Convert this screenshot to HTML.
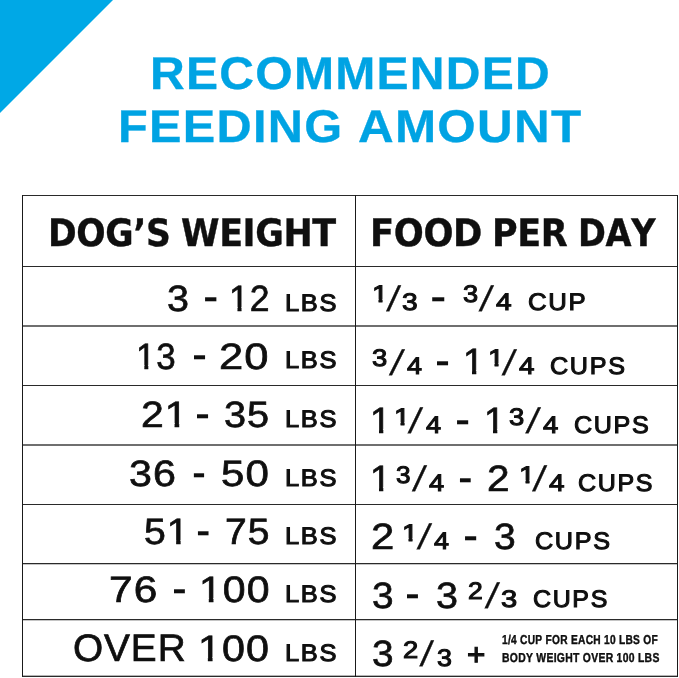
<!DOCTYPE html>
<html lang="en"><head><meta charset="utf-8"><title>Recommended Feeding Amount</title>
<style>
html,body{margin:0;padding:0;background:#fff;}
body{width:679px;height:678px;position:relative;overflow:hidden;font-family:"Liberation Sans", sans-serif;}
.t{position:absolute;white-space:nowrap;line-height:1;transform-origin:0 0;display:block;font-kerning:none;text-rendering:geometricPrecision;}
.o{font-style:normal;display:inline-block;clip-path:polygon(0 0,100% 0,100% .71em,.352em .71em,.352em 1.1em,.239em 1.1em,.239em .71em,0 .71em);}
.fd .o{clip-path:polygon(0 0,100% 0,100% .66em,.364em .66em,.364em 1.1em,.227em 1.1em,.227em .66em,0 .66em);}
.title{font-size:45.93px;font-weight:700;color:#00a3e3;letter-spacing:1.2px;-webkit-text-stroke:0.3px #00a3e3;}
.head{font-size:37.72px;font-weight:700;color:#0f0f0f;font-family:"DejaVu Sans", "Liberation Sans", sans-serif;letter-spacing:-0.4px;-webkit-text-stroke:0.4px #0f0f0f;}
.big{font-size:36.63px;font-weight:400;color:#0f0f0f;letter-spacing:0.9px;-webkit-text-stroke:0.7px #0f0f0f;}
.sc{font-size:24.06px;font-weight:400;color:#0f0f0f;letter-spacing:1.6px;-webkit-text-stroke:1.05px #0f0f0f;}
.fd{font-size:24.06px;font-weight:400;color:#0f0f0f;-webkit-text-stroke:1.05px #0f0f0f;}
.slash{font-size:36.50px;font-weight:400;color:#0f0f0f;-webkit-text-stroke:0.3px #0f0f0f;}
.dash{font-size:36.50px;font-weight:400;color:#0f0f0f;}
.plus{font-size:30.00px;font-weight:400;color:#0f0f0f;-webkit-text-stroke:1.1px #0f0f0f;}
.tiny{font-size:12.94px;font-weight:700;color:#0f0f0f;letter-spacing:0.35px;-webkit-text-stroke:0.4px #0f0f0f;}

.tri{position:absolute;left:0;top:0;width:0;height:0;border-top:113px solid #00a8e6;border-right:113px solid transparent;}
.txt{position:absolute;left:0;top:0;width:679px;height:678px;will-change:transform;}
.ln{position:absolute;background:#2a2a2a;}
.ln.v{width:1px;background:#1a1a1a;}
.ln.h{left:22px;width:656px;height:1px;}
.ln.h.b{height:2px;background:#6f6f6f;}
.ln.h.a{box-shadow:0 1px 0 #c4c4c4;}
.ln.h.e{box-shadow:0 -1px 0 #b4b4b4;}
</style></head><body>
<div class="tri"></div>
<div class="grid">
<div class="ln h s" style="top:195px"></div>
<div class="ln h s" style="top:266px"></div>
<div class="ln h b" style="top:325px"></div>
<div class="ln h s" style="top:385px"></div>
<div class="ln h b" style="top:444px"></div>
<div class="ln h s" style="top:504px"></div>
<div class="ln h a" style="top:563px"></div>
<div class="ln h a" style="top:619px"></div>
<div class="ln h e" style="top:676px"></div>
<div class="ln v" style="left:22px;top:195px;height:482px"></div>
<div class="ln v" style="left:355px;top:195px;height:482px"></div>
<div class="ln v" style="left:677px;top:195px;height:482px"></div>
</div>
<div class="txt">
<div class="g" role="heading" aria-level="1">
<span class="t title" style="left:150.15px;top:51.00px;transform:scaleX(1.0468);">RECOMMENDED</span>
<span class="t title" style="left:118.25px;top:104.00px;transform:scaleX(1.0601);">FEEDING</span>
<span class="t title" style="left:358.05px;top:104.00px;transform:scaleX(1.0753);">AMOUNT</span>
</div>
<div class="g" role="table">
<div class="g" role="row">
<div class="g" role="columnheader">
<span class="t head" style="left:47.50px;top:215.00px;transform:scaleX(0.9164);">DOG’S</span>
<span class="t head" style="left:180.60px;top:215.00px;transform:scaleX(0.9253);">WEIGHT</span>
</div>
<div class="g" role="columnheader">
<span class="t head" style="left:370.20px;top:215.00px;transform:scaleX(0.9361);">FOOD</span>
<span class="t head" style="left:492.00px;top:215.00px;transform:scaleX(0.9263);">PER</span>
<span class="t head" style="left:577.50px;top:215.00px;transform:scaleX(0.8902);">DAY</span>
</div>
</div>
<div class="g" role="row">
<div class="g" role="cell">
<span class="t big" style="left:166.60px;top:281.00px;transform:scaleX(1.0779);">3</span>
<span class="t dash" style="left:203.00px;top:271.00px;transform:scale(1.2698,1.4147);">-</span>
<span class="t big" style="left:229.40px;top:281.00px;transform:scaleX(0.9703);"><i class="o">1</i>2</span>
<span class="t sc" style="left:284.60px;top:292.00px;transform:scaleX(1.0592);">LBS</span>
</div>
<div class="g" role="cell">
<span class="t fd" style="left:371.80px;top:283.00px;transform:scaleX(1.2000);"><i class="o">1</i></span>
<span class="t slash" style="left:390.90px;top:282.00px;transform:skewX(-9.29deg) scale(1.0500,0.9713);">/</span>
<span class="t fd" style="left:402.20px;top:291.00px;transform:scaleX(1.1721);">3</span>
<span class="t dash" style="left:430.45px;top:271.00px;transform:scale(1.3545,1.4147);">-</span>
<span class="t fd" style="left:462.70px;top:283.00px;transform:scaleX(1.1321);">3</span>
<span class="t slash" style="left:484.40px;top:282.00px;transform:skewX(-10.03deg) scale(1.0500,0.9723);">/</span>
<span class="t fd" style="left:496.40px;top:291.00px;transform:scaleX(1.1661);">4</span>
<span class="t sc" style="left:527.85px;top:291.00px;transform:scaleX(1.0695);">CUP</span>
</div>
</div>
<div class="g" role="row">
<div class="g" role="cell">
<span class="t big" style="left:136.20px;top:339.00px;transform:scaleX(0.9530);"><i class="o">1</i>3</span>
<span class="t dash" style="left:191.60px;top:329.00px;transform:scale(1.2402,1.4147);">-</span>
<span class="t big" style="left:219.25px;top:339.00px;transform:scaleX(1.1885);">20</span>
<span class="t sc" style="left:284.60px;top:349.00px;transform:scaleX(1.0592);">LBS</span>
</div>
<div class="g" role="cell">
<span class="t fd" style="left:372.30px;top:347.00px;transform:scaleX(1.1407);">3</span>
<span class="t slash" style="left:395.15px;top:346.00px;transform:skewX(-11.60deg) scale(1.0500,0.9707);">/</span>
<span class="t fd" style="left:407.00px;top:355.00px;transform:scaleX(1.1209);">4</span>
<span class="t dash" style="left:434.70px;top:335.00px;transform:scale(1.2402,1.4147);">-</span>
<span class="t big" style="left:462.85px;top:344.00px;transform:scaleX(1.0300);"><i class="o">1</i></span>
<span class="t fd" style="left:487.90px;top:347.00px;transform:scaleX(1.2000);"><i class="o">1</i></span>
<span class="t slash" style="left:507.10px;top:346.00px;transform:skewX(-10.03deg) scale(1.0500,0.9723);">/</span>
<span class="t fd" style="left:518.80px;top:355.00px;transform:scaleX(1.1549);">4</span>
<span class="t sc" style="left:550.25px;top:355.00px;transform:scaleX(1.0463);">CUPS</span>
</div>
</div>
<div class="g" role="row">
<div class="g" role="cell">
<span class="t big" style="left:141.45px;top:397.00px;transform:scaleX(1.1176);">2<i class="o">1</i></span>
<span class="t dash" style="left:195.20px;top:388.00px;transform:scale(1.2402,1.4147);">-</span>
<span class="t big" style="left:224.40px;top:397.00px;transform:scaleX(1.0836);">35</span>
<span class="t sc" style="left:284.60px;top:408.00px;transform:scaleX(1.0592);">LBS</span>
</div>
<div class="g" role="cell">
<span class="t big" style="left:369.85px;top:403.00px;transform:scaleX(1.0300);"><i class="o">1</i></span>
<span class="t fd" style="left:393.80px;top:406.00px;transform:scaleX(1.2000);"><i class="o">1</i></span>
<span class="t slash" style="left:413.30px;top:404.00px;transform:skewX(-10.34deg) scale(1.0500,0.9723);">/</span>
<span class="t fd" style="left:425.60px;top:414.00px;transform:scaleX(1.1284);">4</span>
<span class="t dash" style="left:454.90px;top:394.00px;transform:scale(1.2524,1.4147);">-</span>
<span class="t big" style="left:483.85px;top:403.00px;transform:scaleX(1.0300);"><i class="o">1</i></span>
<span class="t fd" style="left:509.20px;top:406.00px;transform:scaleX(1.1407);">3</span>
<span class="t slash" style="left:531.10px;top:404.00px;transform:skewX(-10.45deg) scale(1.0500,0.9723);">/</span>
<span class="t fd" style="left:543.10px;top:414.00px;transform:scaleX(1.1435);">4</span>
<span class="t sc" style="left:574.15px;top:414.00px;transform:scaleX(1.0441);">CUPS</span>
</div>
</div>
<div class="g" role="row">
<div class="g" role="cell">
<span class="t big" style="left:129.35px;top:456.00px;transform:scaleX(1.1249);">36</span>
<span class="t dash" style="left:191.85px;top:447.00px;transform:scale(1.1487,1.4147);">-</span>
<span class="t big" style="left:220.75px;top:456.00px;transform:scaleX(1.1481);">50</span>
<span class="t sc" style="left:284.60px;top:467.00px;transform:scaleX(1.0592);">LBS</span>
</div>
<div class="g" role="cell">
<span class="t big" style="left:369.85px;top:461.00px;transform:scaleX(1.0300);"><i class="o">1</i></span>
<span class="t fd" style="left:395.60px;top:464.00px;transform:scaleX(1.0883);">3</span>
<span class="t slash" style="left:416.75px;top:462.00px;transform:skewX(-9.71deg) scale(1.0500,0.9709);">/</span>
<span class="t fd" style="left:429.10px;top:472.00px;transform:scaleX(1.1321);">4</span>
<span class="t dash" style="left:457.60px;top:452.00px;transform:scale(1.2059,1.4147);">-</span>
<span class="t big" style="left:486.85px;top:461.00px;transform:scaleX(1.1044);">2</span>
<span class="t fd" style="left:518.50px;top:464.00px;transform:scaleX(1.2000);"><i class="o">1</i></span>
<span class="t slash" style="left:536.70px;top:462.00px;transform:skewX(-9.39deg) scale(1.0500,0.9710);">/</span>
<span class="t fd" style="left:548.90px;top:472.00px;transform:scaleX(1.1586);">4</span>
<span class="t sc" style="left:577.85px;top:472.00px;transform:scaleX(1.0399);">CUPS</span>
</div>
</div>
<div class="g" role="row">
<div class="g" role="cell">
<span class="t big" style="left:143.65px;top:514.00px;transform:scaleX(1.0707);">5<i class="o">1</i></span>
<span class="t dash" style="left:196.20px;top:505.00px;transform:scale(1.1891,1.4147);">-</span>
<span class="t big" style="left:224.95px;top:514.00px;transform:scaleX(1.0667);">75</span>
<span class="t sc" style="left:284.60px;top:525.00px;transform:scaleX(1.0592);">LBS</span>
</div>
<div class="g" role="cell">
<span class="t big" style="left:371.05px;top:519.00px;transform:scaleX(1.1421);">2</span>
<span class="t fd" style="left:402.10px;top:522.00px;transform:scaleX(1.2000);"><i class="o">1</i></span>
<span class="t slash" style="left:421.60px;top:520.00px;transform:skewX(-10.34deg) scale(1.0500,0.9723);">/</span>
<span class="t fd" style="left:433.80px;top:530.00px;transform:scaleX(1.1209);">4</span>
<span class="t dash" style="left:463.20px;top:510.00px;transform:scale(1.2524,1.4147);">-</span>
<span class="t big" style="left:494.20px;top:519.00px;transform:scaleX(1.0667);">3</span>
<span class="t sc" style="left:535.45px;top:530.00px;transform:scaleX(1.0470);">CUPS</span>
</div>
</div>
<div class="g" role="row">
<div class="g" role="cell">
<span class="t big" style="left:109.05px;top:572.00px;transform:scaleX(1.1587);">76</span>
<span class="t dash" style="left:172.00px;top:563.00px;transform:scale(1.2231,1.4147);">-</span>
<span class="t big" style="left:198.60px;top:572.00px;transform:scaleX(1.1205);"><i class="o">1</i>00</span>
<span class="t sc" style="left:284.60px;top:583.00px;transform:scaleX(1.0592);">LBS</span>
</div>
<div class="g" role="cell">
<span class="t big" style="left:371.80px;top:578.00px;transform:scaleX(1.0584);">3</span>
<span class="t dash" style="left:405.40px;top:568.00px;transform:scale(1.2292,1.4147);">-</span>
<span class="t big" style="left:435.70px;top:578.00px;transform:scaleX(1.0779);">3</span>
<span class="t fd" style="left:467.95px;top:580.00px;transform:scaleX(1.1002);">2</span>
<span class="t slash" style="left:489.70px;top:579.00px;transform:skewX(-10.03deg) scale(1.0500,0.9723);">/</span>
<span class="t fd" style="left:500.60px;top:588.00px;transform:scaleX(1.2121);">3</span>
<span class="t sc" style="left:532.95px;top:588.00px;transform:scaleX(1.0370);">CUPS</span>
</div>
</div>
<div class="g" role="row">
<div class="g" role="cell">
<span class="t big" style="left:72.80px;top:630.00px;font-size:38.23px;transform:scaleX(1.0148);">OVER</span>
<span class="t big" style="left:198.00px;top:631.00px;transform:scaleX(1.1274);"><i class="o">1</i>00</span>
<span class="t sc" style="left:284.60px;top:642.00px;transform:scaleX(1.0592);">LBS</span>
</div>
<div class="g" role="cell">
<span class="t big" style="left:371.80px;top:636.00px;transform:scaleX(1.0584);">3</span>
<span class="t fd" style="left:402.95px;top:639.00px;transform:scaleX(1.1376);">2</span>
<span class="t slash" style="left:424.30px;top:637.00px;transform:skewX(-8.54deg) scale(1.0500,0.9718);">/</span>
<span class="t fd" style="left:436.80px;top:647.00px;transform:scaleX(1.1161);">3</span>
<span class="t plus" style="left:466.60px;top:640.00px;transform:scale(1.0486,1.0281);">+</span>
<span class="t tiny" style="left:501.50px;top:634.00px;transform:scaleX(0.7870);">1/4 CUP FOR EACH 10 LBS OF</span>
<span class="t tiny" style="left:501.50px;top:652.00px;transform:scaleX(0.8041);">BODY WEIGHT OVER 100 LBS</span>
</div>
</div>
</div>
</div>
</body></html>
